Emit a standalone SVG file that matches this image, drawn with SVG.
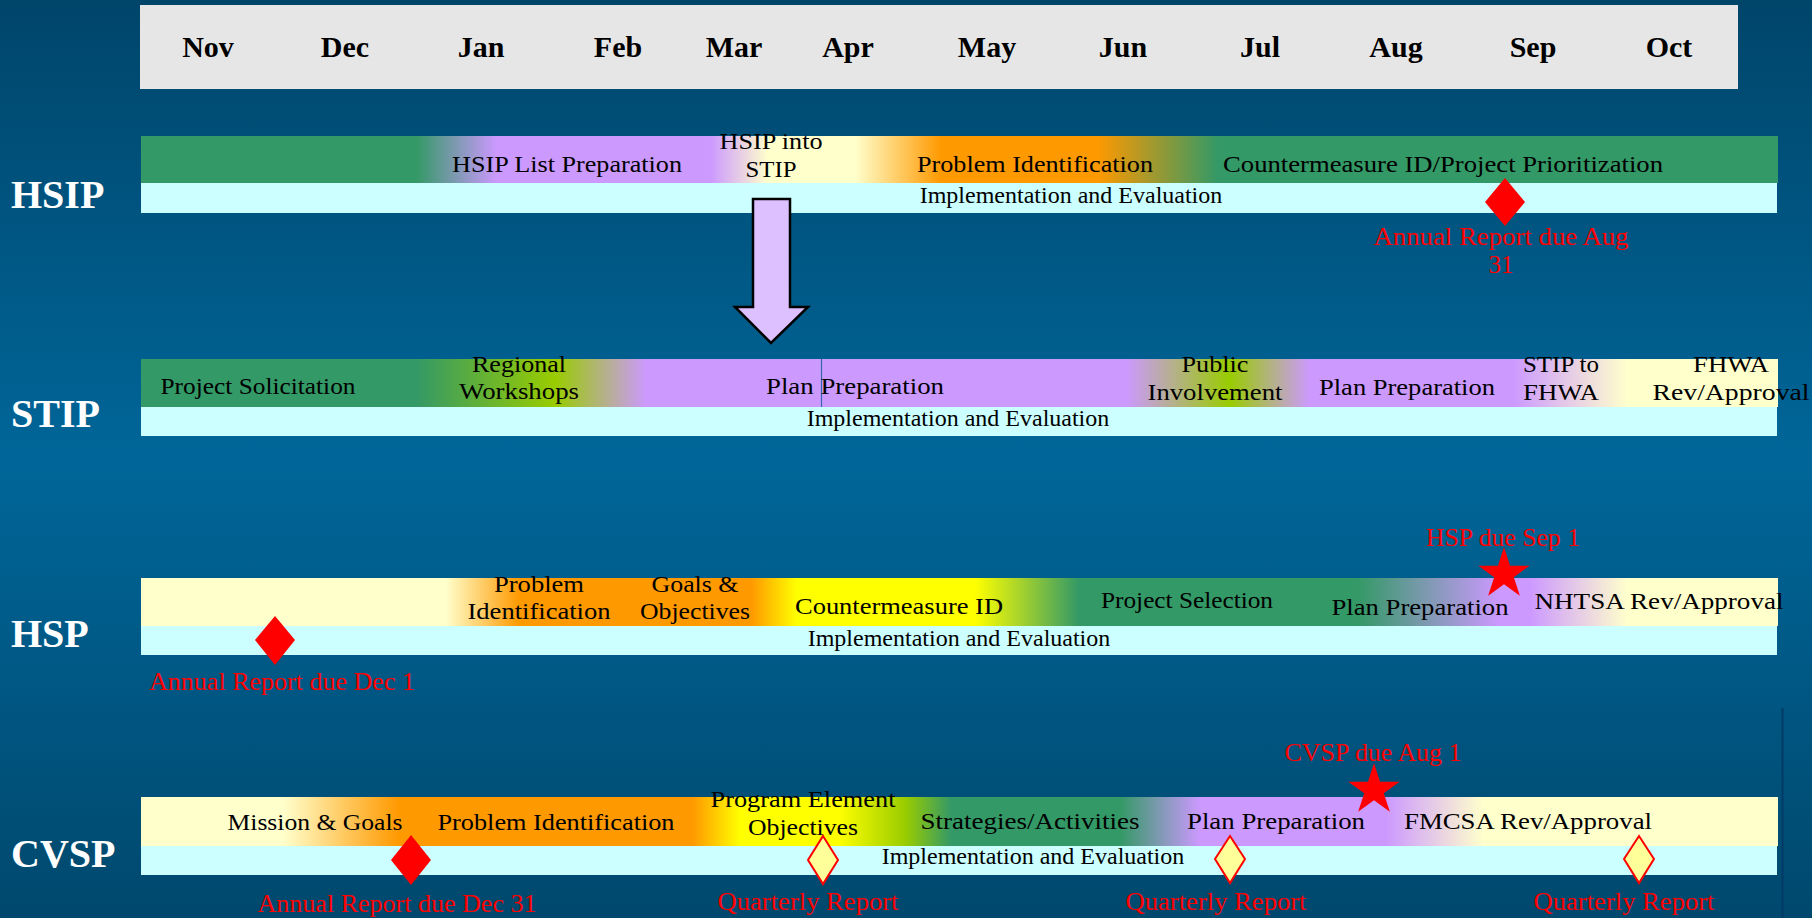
<svg xmlns="http://www.w3.org/2000/svg" width="1812" height="918" viewBox="0 0 1812 918">
<style>
.t{font-family:"Liberation Serif","Times New Roman",serif;font-size:24px;fill:#000;text-anchor:middle}
.m{font-family:"Liberation Serif","Times New Roman",serif;font-size:30px;font-weight:bold;fill:#000;text-anchor:middle}
.r{font-family:"Liberation Serif","Times New Roman",serif;font-size:25px;fill:#ff0000;text-anchor:middle}
.lab{font-family:"Liberation Serif","Times New Roman",serif;font-size:40px;font-weight:bold;fill:#fff}
.impl{fill:#ccffff}
.dia{fill:#ff0000}
.qd{fill:#ffff99;stroke:#ff0000;stroke-width:2}
.star{fill:#ff0000}
</style>
<defs>
<linearGradient id="bg" x1="0" y1="0" x2="0" y2="1">
<stop offset="0" stop-color="#00456a"/>
<stop offset="0.5" stop-color="#006699"/>
<stop offset="1" stop-color="#00486d"/>
</linearGradient>
<linearGradient id="gHSIP" gradientUnits="userSpaceOnUse" x1="141" y1="0" x2="1778" y2="0">
<stop offset="0" stop-color="#339966"/>
<stop offset="0.168" stop-color="#339966"/>
<stop offset="0.2175" stop-color="#cc99ff"/>
<stop offset="0.348" stop-color="#cc99ff"/>
<stop offset="0.383" stop-color="#ffffcc"/>
<stop offset="0.436" stop-color="#ffffcc"/>
<stop offset="0.489" stop-color="#ff9900"/>
<stop offset="0.584" stop-color="#ff9900"/>
<stop offset="0.658" stop-color="#339966"/>
<stop offset="1" stop-color="#339966"/>
</linearGradient>
<linearGradient id="gSTIP" gradientUnits="userSpaceOnUse" x1="141" y1="0" x2="1778" y2="0">
<stop offset="0" stop-color="#339966"/>
<stop offset="0.168" stop-color="#339966"/>
<stop offset="0.253" stop-color="#99cc00"/>
<stop offset="0.309" stop-color="#cc99ff"/>
<stop offset="0.602" stop-color="#cc99ff"/>
<stop offset="0.665" stop-color="#99cc00"/>
<stop offset="0.714" stop-color="#cc99ff"/>
<stop offset="0.838" stop-color="#cc99ff"/>
<stop offset="0.908" stop-color="#ffffcc"/>
<stop offset="1" stop-color="#ffffcc"/>
</linearGradient>
<linearGradient id="gHSP" gradientUnits="userSpaceOnUse" x1="141" y1="0" x2="1778" y2="0">
<stop offset="0" stop-color="#ffffcc"/>
<stop offset="0.186" stop-color="#ffffcc"/>
<stop offset="0.2315" stop-color="#ff9900"/>
<stop offset="0.3726" stop-color="#ff9900"/>
<stop offset="0.4007" stop-color="#ffff00"/>
<stop offset="0.5095" stop-color="#ffff00"/>
<stop offset="0.573" stop-color="#339966"/>
<stop offset="0.743" stop-color="#339966"/>
<stop offset="0.830" stop-color="#cc99ff"/>
<stop offset="0.8485" stop-color="#cc99ff"/>
<stop offset="0.908" stop-color="#ffffcc"/>
<stop offset="1" stop-color="#ffffcc"/>
</linearGradient>
<linearGradient id="gCVSP" gradientUnits="userSpaceOnUse" x1="141" y1="0" x2="1778" y2="0">
<stop offset="0" stop-color="#ffffcc"/>
<stop offset="0.0867" stop-color="#ffffcc"/>
<stop offset="0.1576" stop-color="#ff9900"/>
<stop offset="0.337" stop-color="#ff9900"/>
<stop offset="0.366" stop-color="#ffff00"/>
<stop offset="0.426" stop-color="#ffff00"/>
<stop offset="0.467" stop-color="#99cc00"/>
<stop offset="0.495" stop-color="#339966"/>
<stop offset="0.598" stop-color="#339966"/>
<stop offset="0.647" stop-color="#cc99ff"/>
<stop offset="0.7605" stop-color="#cc99ff"/>
<stop offset="0.820" stop-color="#ffffcc"/>
<stop offset="1" stop-color="#ffffcc"/>
</linearGradient>
<path id="starShape" d="M0,-27 L6.05,-8.33 L25.68,-8.34 L9.8,3.18 L15.87,21.84 L0,10.3 L-15.87,21.84 L-9.8,3.18 L-25.68,-8.34 L-6.05,-8.33 Z"/>
</defs>

<rect x="0" y="0" width="1812" height="918" fill="url(#bg)"/>
<line x1="1782.5" y1="708" x2="1782.5" y2="918" stroke="#003a66" stroke-width="2"/>

<g id="header">
<rect x="140" y="5" width="1598" height="84" fill="#e6e6e6"/>
<text class="m" x="208" y="57">Nov</text>
<text class="m" x="345" y="57">Dec</text>
<text class="m" x="481" y="57">Jan</text>
<text class="m" x="618" y="57">Feb</text>
<text class="m" x="734" y="57">Mar</text>
<text class="m" x="848" y="57">Apr</text>
<text class="m" x="987" y="57">May</text>
<text class="m" x="1123" y="57">Jun</text>
<text class="m" x="1260" y="57">Jul</text>
<text class="m" x="1396" y="57">Aug</text>
<text class="m" x="1533" y="57">Sep</text>
<text class="m" x="1669" y="57">Oct</text>
</g>

<g id="hsip">
<text class="lab" x="11" y="208">HSIP</text>
<rect x="141" y="136" width="1637" height="47" fill="url(#gHSIP)"/>
<rect class="impl" x="141" y="183" width="1636" height="30"/>
<text class="t" x="567" y="172" textLength="230" lengthAdjust="spacingAndGlyphs">HSIP List Preparation</text>
<text class="t" x="771" y="149" textLength="103" lengthAdjust="spacingAndGlyphs">HSIP into</text>
<text class="t" x="771" y="177" textLength="51" lengthAdjust="spacingAndGlyphs">STIP</text>
<text class="t" x="1035" y="172" textLength="236" lengthAdjust="spacingAndGlyphs">Problem Identification</text>
<text class="t" x="1443" y="172" textLength="440" lengthAdjust="spacingAndGlyphs">Countermeasure ID/Project Prioritization</text>
<text class="t" x="1071" y="203">Implementation and Evaluation</text>
<polygon class="dia" points="1505,178 1525,202 1505,226 1485,202"/>
<text class="r" x="1501" y="245" textLength="255" lengthAdjust="spacingAndGlyphs">Annual Report due Aug</text>
<text class="r" x="1501" y="273">31</text>
</g>

<g id="stip">
<text class="lab" x="11" y="427">STIP</text>
<rect x="141" y="359" width="1637" height="48" fill="url(#gSTIP)"/>
<rect class="impl" x="141" y="407" width="1636" height="29"/>
<line x1="821.5" y1="359" x2="821.5" y2="407" stroke="#3366aa" stroke-width="1.2"/>
<text class="t" x="258" y="394" textLength="195" lengthAdjust="spacingAndGlyphs">Project Solicitation</text>
<text class="t" x="519" y="372" textLength="94" lengthAdjust="spacingAndGlyphs">Regional</text>
<text class="t" x="519" y="399" textLength="120" lengthAdjust="spacingAndGlyphs">Workshops</text>
<text class="t" x="855" y="394" textLength="178" lengthAdjust="spacingAndGlyphs">Plan Preparation</text>
<text class="t" x="1215" y="372" textLength="67" lengthAdjust="spacingAndGlyphs">Public</text>
<text class="t" x="1215" y="400" textLength="135" lengthAdjust="spacingAndGlyphs">Involvement</text>
<text class="t" x="1407" y="395" textLength="176" lengthAdjust="spacingAndGlyphs">Plan Preparation</text>
<text class="t" x="1561" y="372" textLength="76" lengthAdjust="spacingAndGlyphs">STIP to</text>
<text class="t" x="1561" y="400" textLength="76" lengthAdjust="spacingAndGlyphs">FHWA</text>
<text class="t" x="1731" y="372" textLength="76" lengthAdjust="spacingAndGlyphs">FHWA</text>
<text class="t" x="1731" y="400" textLength="157" lengthAdjust="spacingAndGlyphs">Rev/Approval</text>
<text class="t" x="958" y="426">Implementation and Evaluation</text>
</g>

<g id="hsp">
<text class="lab" x="11" y="647">HSP</text>
<rect x="141" y="578" width="1637" height="48" fill="url(#gHSP)"/>
<rect class="impl" x="141" y="626" width="1636" height="29"/>
<text class="t" x="539" y="592" textLength="90" lengthAdjust="spacingAndGlyphs">Problem</text>
<text class="t" x="539" y="619" textLength="143" lengthAdjust="spacingAndGlyphs">Identification</text>
<text class="t" x="695" y="592" textLength="87" lengthAdjust="spacingAndGlyphs">Goals &amp;</text>
<text class="t" x="695" y="619" textLength="110" lengthAdjust="spacingAndGlyphs">Objectives</text>
<text class="t" x="899" y="614" textLength="208" lengthAdjust="spacingAndGlyphs">Countermeasure ID</text>
<text class="t" x="1187" y="608" textLength="172" lengthAdjust="spacingAndGlyphs">Project Selection</text>
<text class="t" x="1420" y="615" textLength="177" lengthAdjust="spacingAndGlyphs">Plan Preparation</text>
<text class="t" x="1659" y="609" textLength="249" lengthAdjust="spacingAndGlyphs">NHTSA Rev/Approval</text>
<text class="t" x="959" y="646">Implementation and Evaluation</text>
<polygon class="dia" points="275,616 295,640 275,665 255,640"/>
<text class="r" x="282" y="690" textLength="266" lengthAdjust="spacingAndGlyphs">Annual Report due Dec 1</text>
<use href="#starShape" class="star" transform="translate(1504,574)"/>
<text class="r" x="1503" y="546" textLength="154" lengthAdjust="spacingAndGlyphs">HSP due Sep 1</text>
</g>

<g id="cvsp">
<text class="lab" x="11" y="867">CVSP</text>
<rect x="141" y="797" width="1637" height="49" fill="url(#gCVSP)"/>
<rect class="impl" x="141" y="846" width="1636" height="29"/>
<text class="t" x="315" y="830" textLength="175" lengthAdjust="spacingAndGlyphs">Mission &amp; Goals</text>
<text class="t" x="556" y="830" textLength="237" lengthAdjust="spacingAndGlyphs">Problem Identification</text>
<text class="t" x="803" y="807" textLength="185" lengthAdjust="spacingAndGlyphs">Program Element</text>
<text class="t" x="803" y="835" textLength="110" lengthAdjust="spacingAndGlyphs">Objectives</text>
<text class="t" x="1030" y="829" textLength="219" lengthAdjust="spacingAndGlyphs">Strategies/Activities</text>
<text class="t" x="1276" y="829" textLength="178" lengthAdjust="spacingAndGlyphs">Plan Preparation</text>
<text class="t" x="1528" y="829" textLength="248" lengthAdjust="spacingAndGlyphs">FMCSA Rev/Approval</text>
<text class="t" x="1033" y="864">Implementation and Evaluation</text>
<polygon class="dia" points="411,835 431,860 411,885 391,860"/>
<polygon class="qd" points="823,836 838,860 823,884 808,860"/>
<polygon class="qd" points="1230,836 1245,859 1230,883 1215,859"/>
<polygon class="qd" points="1639,836 1654,859 1639,883 1624,859"/>
<use href="#starShape" class="star" transform="translate(1374,790)"/>
<text class="r" x="1373" y="761" textLength="177" lengthAdjust="spacingAndGlyphs">CVSP due Aug 1</text>
<text class="r" x="397" y="912" textLength="279" lengthAdjust="spacingAndGlyphs">Annual Report due Dec 31</text>
<text class="r" x="808" y="910" textLength="181" lengthAdjust="spacingAndGlyphs">Quarterly Report</text>
<text class="r" x="1216" y="910" textLength="181" lengthAdjust="spacingAndGlyphs">Quarterly Report</text>
<text class="r" x="1624" y="910" textLength="181" lengthAdjust="spacingAndGlyphs">Quarterly Report</text>
</g>

<g id="connectors">
<polygon points="753,199 790,199 790,307 808,307 771,343 735,307 753,307" fill="#ddc0ff" stroke="#000" stroke-width="2.5" stroke-linejoin="miter"/>
</g>
</svg>
